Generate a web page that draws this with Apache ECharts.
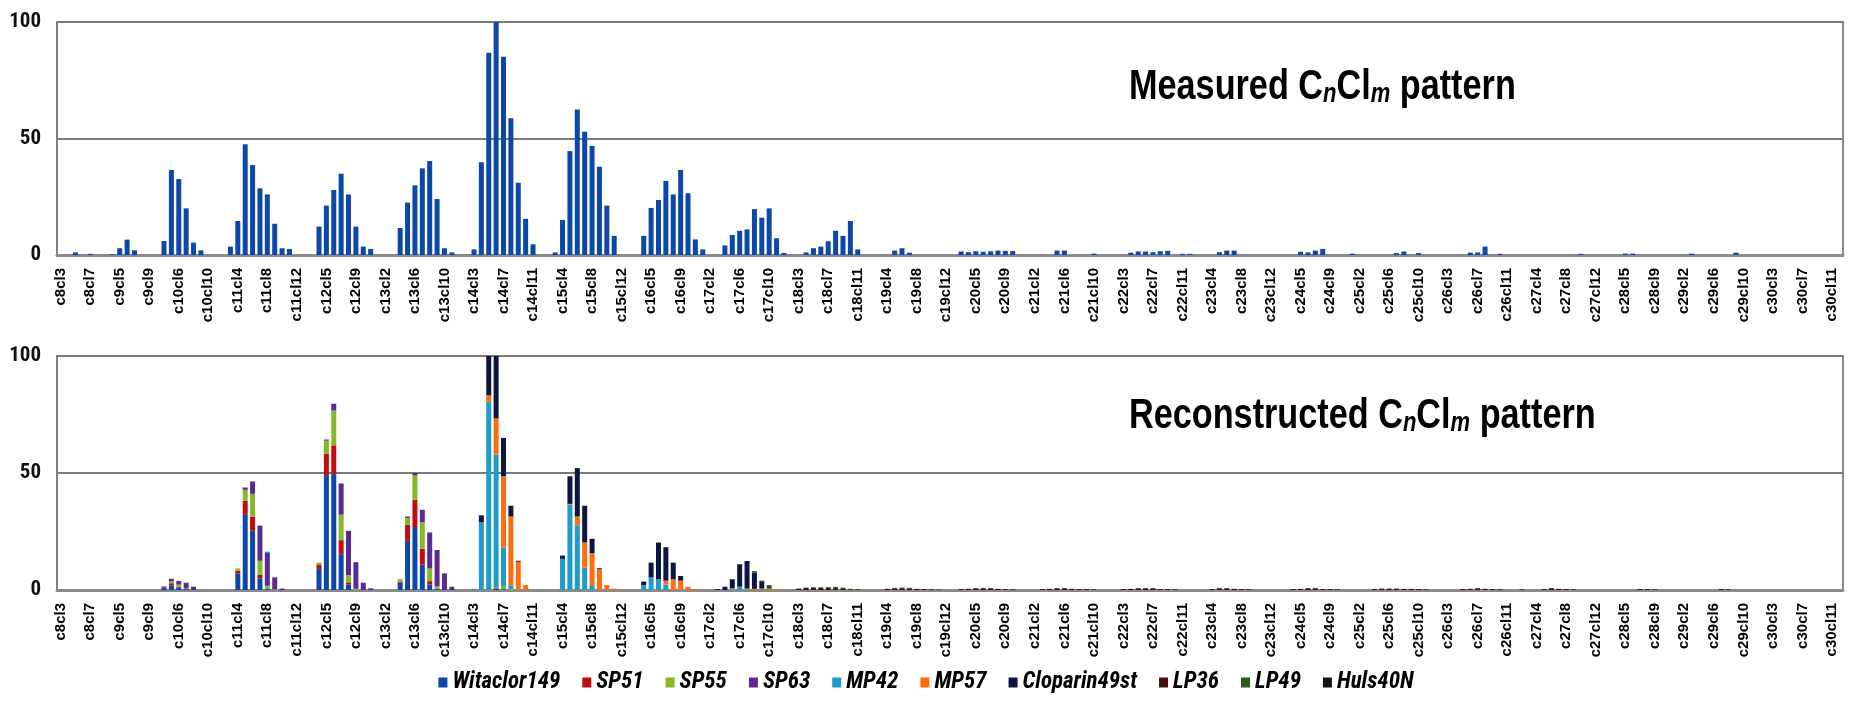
<!DOCTYPE html>
<html>
<head>
<meta charset="utf-8">
<script src="https://cdn.jsdelivr.net/npm/echarts@6/dist/echarts.min.js"></script>
<style>
  html, body { margin: 0; padding: 0; background: #ffffff; }
  #chart { width: 1852px; height: 702px; }
</style>
</head>
<body>
<div id="chart"></div>
<script>
// Homologue groups CnClm: chain lengths C8–C30, chlorine numbers per chain
const chlorineRange = { 8: [3, 8], 9: [3, 9], 10: [3, 11] }; // all other chains: Cl2–Cl12
const categories = [];
for (let n = 8; n <= 30; n++) {
  const [lo, hi] = chlorineRange[n] || [2, 12];
  for (let m = lo; m <= hi; m++) categories.push('c' + n + 'cl' + m);
}
const labelStep = 4; // every fourth homologue is labelled

// Measured homologue pattern (relative abundance, %)
const measured = [
  ['c8cl5', 1.1], ['c8cl7', 0.5], ['c9cl4', 0.3], ['c9cl5', 2.9], ['c9cl6', 6.6], ['c9cl7', 2.0],
  ['c10cl4', 6.0], ['c10cl5', 36.5], ['c10cl6', 32.6], ['c10cl7', 20.0], ['c10cl8', 5.3], ['c10cl9', 2.0],
  ['c11cl3', 3.6], ['c11cl4', 14.6], ['c11cl5', 47.5], ['c11cl6', 38.6], ['c11cl7', 28.6], ['c11cl8', 26.0], ['c11cl9', 13.4], ['c11cl10', 2.9], ['c11cl11', 2.6],
  ['c12cl4', 12.2], ['c12cl5', 21.2], ['c12cl6', 27.9], ['c12cl7', 34.9], ['c12cl8', 26.0], ['c12cl9', 12.2], ['c12cl10', 3.6], ['c12cl11', 2.6],
  ['c13cl4', 11.6], ['c13cl5', 22.5], ['c13cl6', 29.9], ['c13cl7', 37.2], ['c13cl8', 40.3], ['c13cl9', 24.0], ['c13cl10', 2.9], ['c13cl11', 1.1],
  ['c14cl3', 2.4], ['c14cl4', 39.8], ['c14cl5', 86.8], ['c14cl6', 100], ['c14cl7', 85.1], ['c14cl8', 58.7], ['c14cl9', 31.0], ['c14cl10', 15.5], ['c14cl11', 4.6],
  ['c15cl3', 1.1], ['c15cl4', 15.0], ['c15cl5', 44.6], ['c15cl6', 62.5], ['c15cl7', 52.9], ['c15cl8', 46.8], ['c15cl9', 37.9], ['c15cl10', 21.2], ['c15cl11', 8.2],
  ['c16cl4', 8.2], ['c16cl5', 20.2], ['c16cl6', 23.6], ['c16cl7', 31.8], ['c16cl8', 26.0], ['c16cl9', 36.5], ['c16cl10', 26.5], ['c16cl11', 6.7], ['c16cl12', 2.4],
  ['c17cl4', 4.1], ['c17cl5', 8.6], ['c17cl6', 10.4], ['c17cl7', 11.0], ['c17cl8', 19.7], ['c17cl9', 16.0], ['c17cl10', 20.0], ['c17cl11', 7.2], ['c17cl12', 0.9],
  ['c18cl4', 1.1], ['c18cl5', 2.9], ['c18cl6', 3.6], ['c18cl7', 5.9], ['c18cl8', 10.4], ['c18cl9', 8.2], ['c18cl10', 14.6], ['c18cl11', 2.4],
  ['c19cl5', 1.9], ['c19cl6', 2.9], ['c19cl7', 1.0],
  ['c20cl3', 1.5], ['c20cl4', 1.2], ['c20cl5', 1.6], ['c20cl6', 1.4], ['c20cl7', 1.6], ['c20cl8', 1.9], ['c20cl9', 1.8], ['c20cl10', 1.7],
  ['c21cl5', 1.9], ['c21cl6', 1.9], ['c21cl10', 0.6],
  ['c22cl4', 1.0], ['c22cl5', 1.5], ['c22cl6', 1.5], ['c22cl7', 1.2], ['c22cl8', 1.6], ['c22cl9', 1.8], ['c22cl11', 0.5], ['c22cl12', 0.5],
  ['c23cl5', 1.2], ['c23cl6', 1.9], ['c23cl7', 1.9],
  ['c24cl5', 1.4], ['c24cl6', 1.1], ['c24cl7', 1.9], ['c24cl8', 2.6], ['c24cl12', 0.6],
  ['c25cl7', 0.8], ['c25cl8', 1.5], ['c25cl10', 0.8],
  ['c26cl6', 1.0], ['c26cl7', 1.1], ['c26cl8', 3.6], ['c26cl10', 0.5],
  ['c27cl10', 0.5], ['c28cl5', 0.6], ['c28cl6', 0.6], ['c29cl3', 0.6], ['c29cl9', 1.0]
];

// Reconstructed pattern: contribution of each technical mixture
const witaclor149 = [
  ['c10cl4', 1.0], ['c10cl5', 2.0], ['c10cl6', 1.1], ['c10cl7', 0.4],
  ['c11cl4', 7.1], ['c11cl5', 32.1], ['c11cl6', 25.3], ['c11cl7', 5.0], ['c11cl8', 0.4],
  ['c12cl4', 9.0], ['c12cl5', 49.1], ['c12cl6', 49.7], ['c12cl7', 15.3], ['c12cl8', 2.4],
  ['c13cl4', 3.3], ['c13cl5', 21.0], ['c13cl6', 26.9], ['c13cl7', 10.9], ['c13cl8', 2.4], ['c13cl9', 0.5],
  ['c14cl6', 0.5], ['c14cl7', 0.3]
];
const sp51 = [
  ['c10cl4', 0.5], ['c10cl5', 0.9], ['c10cl6', 0.4],
  ['c11cl4', 1.1], ['c11cl5', 6.1], ['c11cl6', 6.1], ['c11cl7', 1.4],
  ['c12cl4', 1.7], ['c12cl5', 9.0], ['c12cl6', 12.1], ['c12cl7', 6.0], ['c12cl8', 0.9],
  ['c13cl4', 0.3], ['c13cl5', 6.9], ['c13cl6', 11.7], ['c13cl7', 6.7], ['c13cl8', 1.4],
  ['c14cl6', 0.3]
];
const sp55 = [
  ['c10cl5', 0.9], ['c10cl6', 0.8], ['c10cl7', 0.3],
  ['c11cl4', 1.0], ['c11cl5', 4.6], ['c11cl6', 9.7], ['c11cl7', 6.1], ['c11cl8', 1.4], ['c11cl9', 0.3],
  ['c12cl4', 1.0], ['c12cl5', 5.7], ['c12cl6', 14.9], ['c12cl7', 10.9], ['c12cl8', 3.1], ['c12cl9', 0.5],
  ['c13cl4', 1.0], ['c13cl5', 2.9], ['c13cl6', 10.3], ['c13cl7', 11.3], ['c13cl8', 5.4], ['c13cl9', 1.0],
  ['c14cl6', 0.5], ['c14cl7', 1.4], ['c14cl8', 0.4], ['c17cl5', 0.3], ['c17cl7', 0.6]
];
const sp63 = [
  ['c10cl5', 1.0], ['c10cl6', 1.6], ['c10cl7', 2.4], ['c10cl8', 1.4],
  ['c11cl5', 1.0], ['c11cl6', 5.3], ['c11cl7', 15.0], ['c11cl8', 14.0], ['c11cl9', 5.1], ['c11cl10', 0.6],
  ['c12cl5', 0.5], ['c12cl6', 2.9], ['c12cl7', 13.3], ['c12cl8', 18.9], ['c12cl9', 11.4], ['c12cl10', 3.1], ['c12cl11', 0.7],
  ['c13cl5', 0.6], ['c13cl6', 1.1], ['c13cl7', 5.4], ['c13cl8', 15.4], ['c13cl9', 15.6], ['c13cl10', 7.1], ['c13cl11', 1.4]
];
const mp42 = [
  ['c11cl8', 0.6],
  ['c14cl3', 0.5], ['c14cl4', 28.9], ['c14cl5', 80.4], ['c14cl6', 56.6], ['c14cl7', 16.4], ['c14cl8', 1.6],
  ['c15cl4', 13.3], ['c15cl5', 36.4], ['c15cl6', 27.6], ['c15cl7', 9.6], ['c15cl8', 2.1],
  ['c16cl4', 2.1], ['c16cl5', 5.4], ['c16cl6', 4.6], ['c16cl7', 2.4],
  ['c17cl5', 0.4], ['c17cl6', 1.4]
];
const mp57 = [
  ['c14cl5', 2.8], ['c14cl6', 15.4], ['c14cl7', 30.5], ['c14cl8', 29.4], ['c14cl9', 12.1], ['c14cl10', 2.1],
  ['c15cl5', 0.4], ['c15cl6', 3.8], ['c15cl7', 10.7], ['c15cl8', 13.6], ['c15cl9', 8.9], ['c15cl10', 2.1], ['c15cl11', 0.6],
  ['c16cl7', 1.6], ['c16cl8', 4.6], ['c16cl9', 4.0], ['c16cl10', 1.4], ['c16cl11', 0.4],
  ['c17cl8', 0.5], ['c17cl9', 0.6], ['c17cl10', 0.5], ['c17cl11', 0.3]
];
const cloparin49st = [
  ['c14cl4', 3.0], ['c14cl5', 16.8], ['c14cl6', 26.7], ['c14cl7', 16.4], ['c14cl8', 4.6], ['c14cl9', 0.4],
  ['c15cl4', 1.4], ['c15cl5', 11.8], ['c15cl6', 20.7], ['c15cl7', 15.7], ['c15cl8', 6.2], ['c15cl9', 0.4],
  ['c16cl4', 1.5], ['c16cl5', 6.3], ['c16cl6', 15.7], ['c16cl7', 14.3], ['c16cl8', 7.1], ['c16cl9', 2.0],
  ['c17cl4', 1.4], ['c17cl5', 3.9], ['c17cl6', 9.6], ['c17cl7', 11.8], ['c17cl8', 7.0], ['c17cl9', 2.8]
];
const lp36 = [
  ['c17cl3', 0.4], ['c18cl3', 0.6], ['c18cl4', 1.0], ['c18cl5', 1.1], ['c18cl6', 1.1], ['c18cl7', 1.0], ['c18cl8', 0.8], ['c18cl9', 0.4],
  ['c19cl4', 0.5], ['c19cl5', 0.6], ['c19cl6', 0.7], ['c19cl7', 0.6], ['c19cl8', 0.5], ['c19cl9', 0.4], ['c19cl10', 0.3],
  ['c20cl3', 0.4], ['c20cl4', 0.5], ['c20cl5', 0.5], ['c20cl6', 0.6], ['c20cl7', 0.5], ['c20cl8', 0.5], ['c20cl9', 0.4], ['c20cl10', 0.3],
  ['c21cl3', 0.4], ['c21cl4', 0.5], ['c21cl5', 0.5], ['c21cl6', 0.5], ['c21cl7', 0.5], ['c21cl8', 0.4], ['c21cl9', 0.4], ['c21cl10', 0.3],
  ['c22cl3', 0.4], ['c22cl4', 0.5], ['c22cl5', 0.5], ['c22cl6', 0.5], ['c22cl7', 0.5], ['c22cl8', 0.4], ['c22cl9', 0.4], ['c22cl10', 0.3],
  ['c23cl4', 0.4], ['c23cl5', 0.5], ['c23cl6', 0.5], ['c23cl7', 0.5], ['c23cl8', 0.4], ['c23cl9', 0.3],
  ['c24cl4', 0.4], ['c24cl5', 0.5], ['c24cl6', 0.5], ['c24cl7', 0.5], ['c24cl8', 0.4], ['c24cl9', 0.4], ['c24cl10', 0.3],
  ['c25cl4', 0.4], ['c25cl5', 0.6], ['c25cl6', 0.6], ['c25cl7', 0.6], ['c25cl8', 0.5], ['c25cl9', 0.5], ['c25cl10', 0.4], ['c25cl11', 0.3],
  ['c26cl5', 0.4], ['c26cl6', 0.5], ['c26cl7', 0.5], ['c26cl8', 0.5], ['c26cl9', 0.4], ['c26cl10', 0.3],
  ['c27cl2', 0.3], ['c27cl5', 0.4], ['c27cl6', 0.5], ['c27cl7', 0.5], ['c27cl8', 0.4], ['c27cl9', 0.3],
  ['c28cl7', 0.4], ['c28cl8', 0.4], ['c28cl9', 0.3], ['c29cl7', 0.4], ['c29cl8', 0.3]
];
const lp49 = [
  ['c17cl8', 0.6], ['c17cl9', 0.6], ['c17cl10', 1.6],
  ['c18cl7', 0.3], ['c18cl8', 0.5], ['c18cl9', 0.6], ['c18cl10', 0.5], ['c18cl11', 0.4], ['c19cl11', 0.3]
];
const huls40N = [
  ['c19cl5', 0.3], ['c19cl6', 0.3], ['c19cl7', 0.3], ['c20cl5', 0.3], ['c20cl6', 0.3], ['c20cl7', 0.3],
  ['c21cl5', 0.3], ['c21cl6', 0.3], ['c22cl5', 0.3], ['c22cl6', 0.3], ['c22cl7', 0.3],
  ['c23cl5', 0.3], ['c23cl6', 0.3], ['c24cl6', 0.3], ['c24cl7', 0.3], ['c26cl7', 0.3], ['c27cl6', 0.3]
];

const yTicks = [0, 50, 100];
const titles = ['Measured', 'Reconstructed'];

const mixtures = [
  { name: 'Witaclor149', values: witaclor149, color: '#0d47a9' },
  { name: 'SP51', values: sp51, color: '#c00d0d' },
  { name: 'SP55', values: sp55, color: '#86b82a' },
  { name: 'SP63', values: sp63, color: '#5a2a8e' },
  { name: 'MP42', values: mp42, color: '#1f9cc8' },
  { name: 'MP57', values: mp57, color: '#ff6d0f' },
  { name: 'Cloparin49st', values: cloparin49st, color: '#0c1645' },
  { name: 'LP36', values: lp36, color: '#4a0e0e' },
  { name: 'LP49', values: lp49, color: '#2b5a17' },
  { name: 'Huls40N', values: huls40N, color: '#141414' }
];

// Expand sparse [category, value] pairs onto the full category axis
function toSeriesData(pairs) {
  const map = new Map(pairs);
  return categories.map(c => (map.has(c) ? map.get(c) : 0));
}

const condensed = 'Roboto Condensed';
const gridLeft = 57, gridRight = 9;
const panels = [{ top: 22, height: 233 }, { top: 356, height: 234 }];

const xAxes = panels.map((p, i) => ({
  type: 'category',
  gridIndex: i,
  data: categories,
  axisTick: { show: false },
  axisLine: { show: true, lineStyle: { color: '#8a8a8a', width: 3 } },
  axisLabel: {
    interval: labelStep - 1,
    rotate: 90,
    margin: 13,
    color: '#000',
    fontFamily: 'Liberation Sans',
    fontWeight: 'bold',
    fontSize: 15
  }
}));

const yAxes = panels.map((p, i) => ({
  type: 'value',
  gridIndex: i,
  min: yTicks[0],
  max: yTicks[yTicks.length - 1],
  interval: yTicks[1] - yTicks[0],
  axisLine: { show: true, lineStyle: { color: '#808080', width: 2 } },
  axisTick: { show: false },
  splitLine: { show: true, lineStyle: { color: '#7a7a7a', width: 2 } },
  axisLabel: {
    margin: 16,
    color: '#111',
    fontFamily: condensed,
    fontWeight: 'bold',
    fontSize: 21
  }
}));

// Panel captions: Arial-style bold text, condensed horizontally, with italic subscripts
const captionRich = {
  a: { fontFamily: 'Liberation Sans', fontWeight: 'bold', fontSize: 42, fill: '#000', lineHeight: 52, verticalAlign: 'bottom' },
  b: { fontFamily: 'Liberation Sans', fontWeight: 'bold', fontStyle: 'italic', fontSize: 27, fill: '#000', verticalAlign: 'bottom' }
};
const captions = titles.map((t, i) => ({
  type: 'text',
  x: 1129,
  y: i === 0 ? 56 : 385,
  scaleX: 0.815,
  silent: true,
  style: {
    text: '{a|' + t + ' C}{b|n}{a|Cl}{b|m}{a| pattern}',
    rich: captionRich,
    verticalAlign: 'top'
  }
}));

const series = [{
  name: 'Measured',
  type: 'bar',
  xAxisIndex: 0,
  yAxisIndex: 0,
  barWidth: 5,
  itemStyle: { color: '#0d47a9' },
  data: toSeriesData(measured)
}].concat(mixtures.map(mx => ({
  name: mx.name,
  type: 'bar',
  stack: 'reconstructed',
  xAxisIndex: 1,
  yAxisIndex: 1,
  barWidth: 5,
  itemStyle: { color: mx.color },
  data: toSeriesData(mx.values)
})));

const chart = echarts.init(document.getElementById('chart'), null, { renderer: 'canvas' });
chart.setOption({
  animation: false,
  backgroundColor: '#ffffff',
  grid: panels.map(p => ({
    left: gridLeft, right: gridRight, top: p.top, height: p.height,
    show: true, borderColor: '#8a8a8a', borderWidth: 2, containLabel: false
  })),
  xAxis: xAxes,
  yAxis: yAxes,
  legend: {
    data: mixtures.map(m => m.name),
    left: 'center',
    top: 666,
    icon: 'rect',
    itemWidth: 9,
    itemHeight: 10,
    itemGap: 22,
    textStyle: { fontFamily: condensed, fontStyle: 'italic', fontWeight: 'bold', fontSize: 23, color: '#000' }
  },
  graphic: captions,
  series: series
});
</script>
</body>
</html>
